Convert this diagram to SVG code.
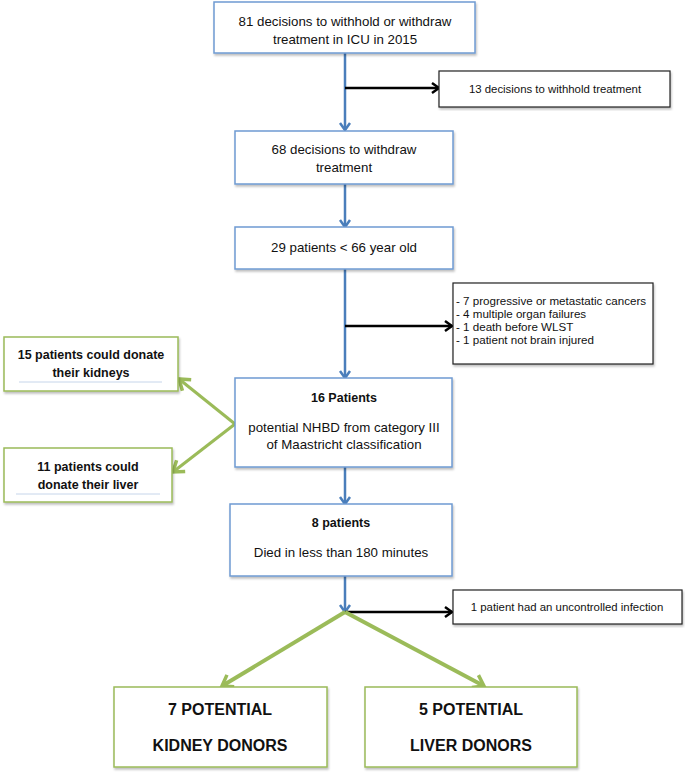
<svg xmlns="http://www.w3.org/2000/svg" width="685" height="775" viewBox="0 0 685 775">
<defs>
<filter id="sh" x="-5%" y="-5%" width="110%" height="115%"><feDropShadow dx="1" dy="2" stdDeviation="1.2" flood-color="#000" flood-opacity="0.25"/></filter>
<marker id="ab" markerUnits="userSpaceOnUse" markerWidth="14" markerHeight="14" viewBox="0 0 14 14" refX="11" refY="7" orient="auto"><path d="M4,2 L11,7 L4,12" fill="none" stroke="#4a7ebb" stroke-width="2.5"/></marker>
<marker id="ak" markerUnits="userSpaceOnUse" markerWidth="14" markerHeight="14" viewBox="0 0 14 14" refX="11" refY="7" orient="auto"><path d="M4,2 L11,7 L4,12" fill="none" stroke="#000" stroke-width="2.5"/></marker>
<marker id="ag" markerUnits="userSpaceOnUse" markerWidth="20" markerHeight="20" viewBox="0 0 20 20" refX="15" refY="10" orient="auto"><path d="M5,3 L15,10 L5,17" fill="none" stroke="#9bbb59" stroke-width="3.5"/></marker>
</defs>
<style>
.bb{fill:#fff;stroke:#6f9bd2;stroke-width:1.5}
.kb{fill:#fff;stroke:#222;stroke-width:1.2}
.gb{fill:#fff;stroke:#9bbb59;stroke-width:1.5}
text{font-family:"Liberation Sans",Arial,sans-serif;fill:#111;text-anchor:middle}
.t{font-size:13.3px}
.s{font-size:11.4px}
.sl{font-size:11.6px;text-anchor:start}
.b{font-size:12.5px;font-weight:bold}
.bl{font-size:16px;font-weight:bold}
.ul{stroke:#c6d5ea;stroke-width:1}
.cb{stroke:#4a7ebb;stroke-width:2.5;fill:none}
.ck{stroke:#000;stroke-width:2.5;fill:none}
.cg{stroke:#9bbb59;stroke-width:3;fill:none}
.cg2{stroke:#9bbb59;stroke-width:4;fill:none}
</style>
<g id="connectors">
<line class="cb" x1="345" y1="53" x2="345" y2="130" marker-end="url(#ab)"/>
<line class="ck" x1="345" y1="88" x2="439" y2="88" marker-end="url(#ak)"/>
<line class="cb" x1="345" y1="184" x2="345" y2="227" marker-end="url(#ab)"/>
<line class="cb" x1="345" y1="269" x2="345" y2="378" marker-end="url(#ab)"/>
<line class="ck" x1="345" y1="326" x2="452" y2="326" marker-end="url(#ak)"/>
<line class="cg" x1="235" y1="424" x2="179" y2="379" marker-end="url(#ag)"/>
<line class="cg" x1="235" y1="424" x2="173" y2="472" marker-end="url(#ag)"/>
<line class="cb" x1="345" y1="467" x2="345" y2="504" marker-end="url(#ab)"/>
<line class="cb" x1="345" y1="576" x2="345" y2="612" marker-end="url(#ab)"/>
<line class="ck" x1="345" y1="612" x2="452" y2="612" marker-end="url(#ak)"/>
<line class="cg2" x1="345" y1="612" x2="222" y2="686" marker-end="url(#ag)"/>
<line class="cg2" x1="345" y1="612" x2="484" y2="686" marker-end="url(#ag)"/>
</g>
<g id="n1"><rect class="bb" filter="url(#sh)" x="214" y="2" width="261" height="51"/>
<text class="t" x="345" y="26">81 decisions to withhold or withdraw</text>
<text class="t" x="345" y="44">treatment in ICU in 2015</text></g>
<g id="n2"><rect class="kb" filter="url(#sh)" x="439" y="71" width="231" height="36"/>
<text class="s" x="555" y="93">13 decisions to withhold treatment</text></g>
<g id="n3"><rect class="bb" filter="url(#sh)" x="235" y="131" width="218" height="53"/>
<text class="t" x="344" y="154">68 decisions to withdraw</text>
<text class="t" x="344" y="172">treatment</text></g>
<g id="n4"><rect class="bb" filter="url(#sh)" x="235" y="227" width="218" height="42"/>
<text class="t" x="344" y="252">29 patients &lt; 66 year old</text></g>
<g id="n5"><rect class="kb" filter="url(#sh)" x="453" y="283" width="200" height="81"/>
<text class="sl" x="456" y="305">- 7 progressive or metastatic cancers</text>
<text class="sl" x="456" y="318">- 4 multiple organ failures</text>
<text class="sl" x="456" y="331">- 1 death before WLST</text>
<text class="sl" x="456" y="344">- 1 patient not brain injured</text></g>
<g id="n6"><rect class="gb" filter="url(#sh)" x="4" y="337" width="174" height="54"/>
<text class="b" x="91" y="359">15 patients could donate</text>
<text class="b" x="91" y="377">their kidneys</text>
<line class="ul" x1="19" y1="382" x2="162" y2="382"/></g>
<g id="n7"><rect class="bb" filter="url(#sh)" x="235" y="378" width="217" height="89"/>
<text class="b" x="344" y="402">16 Patients</text>
<text class="t" x="344" y="432">potential NHBD from category III</text>
<text class="t" x="344" y="449">of Maastricht classification</text></g>
<g id="n8"><rect class="gb" filter="url(#sh)" x="4" y="448" width="168" height="54"/>
<text class="b" x="88" y="471">11 patients could</text>
<text class="b" x="88" y="489">donate their liver</text>
<line class="ul" x1="16" y1="494" x2="160" y2="494"/></g>
<g id="n9"><rect class="bb" filter="url(#sh)" x="230" y="504" width="222" height="72"/>
<text class="b" x="341" y="527">8 patients</text>
<text class="t" x="341" y="557">Died in less than 180 minutes</text></g>
<g id="n10"><rect class="kb" filter="url(#sh)" x="453" y="590" width="229" height="34"/>
<text class="s" x="567" y="611">1 patient had an uncontrolled infection</text></g>
<g id="n11"><rect class="gb" filter="url(#sh)" x="114" y="687" width="213" height="80"/>
<text class="bl" x="220" y="715">7 POTENTIAL</text>
<text class="bl" x="220" y="751">KIDNEY DONORS</text></g>
<g id="n12"><rect class="gb" filter="url(#sh)" x="365" y="687" width="212" height="80"/>
<text class="bl" x="471" y="715">5 POTENTIAL</text>
<text class="bl" x="471" y="751">LIVER DONORS</text></g>
</svg>
